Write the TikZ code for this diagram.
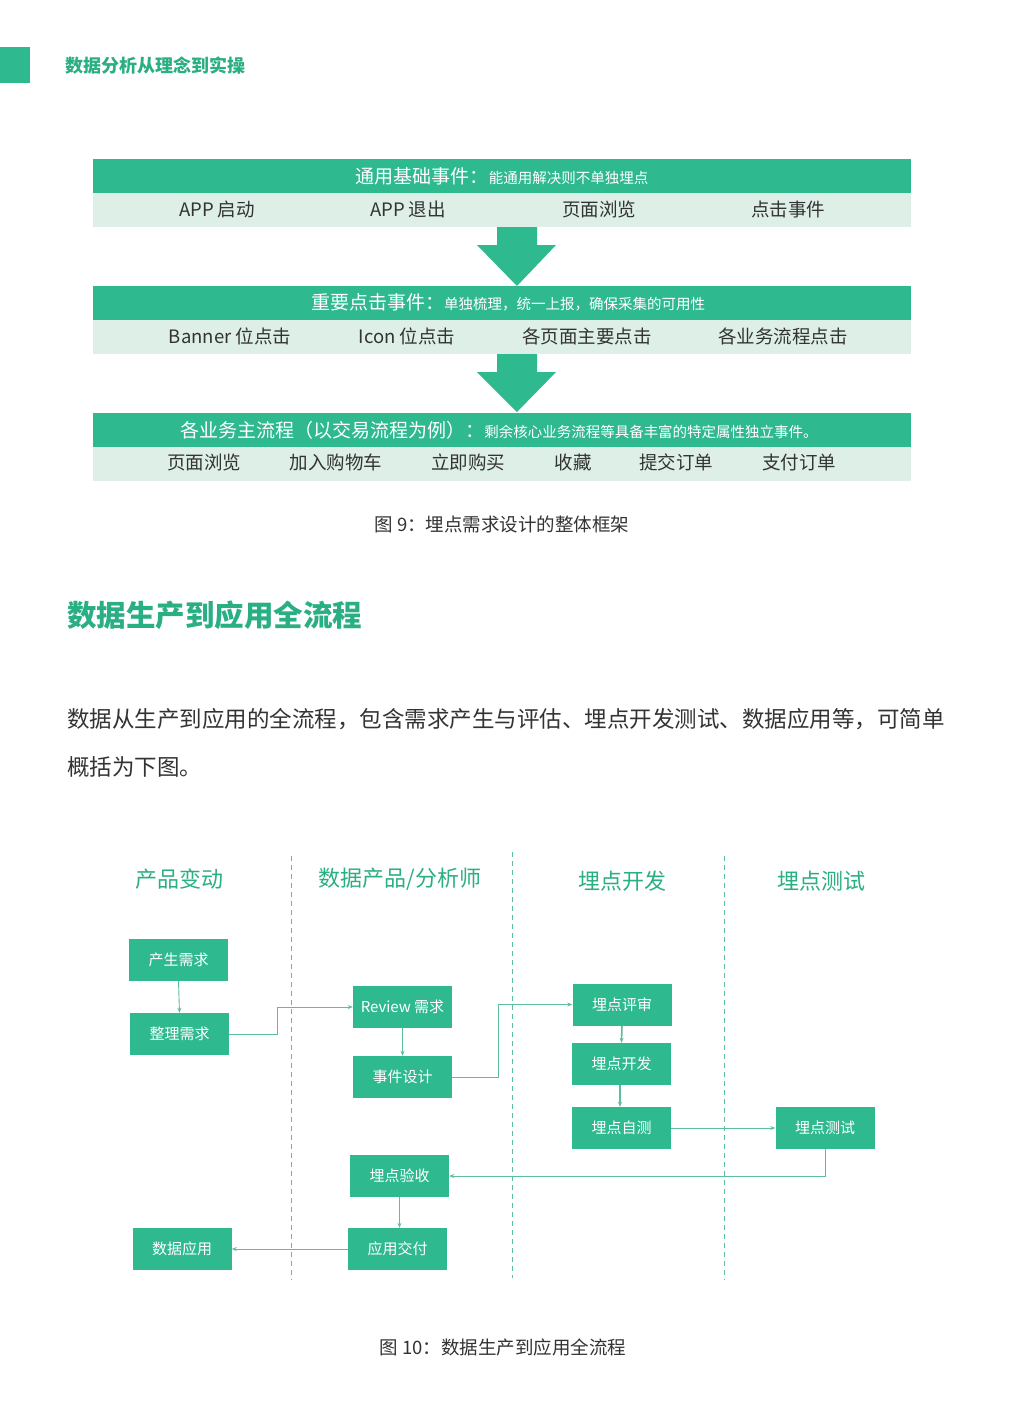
\documentclass[tikz,border=0pt]{standalone}
\usepackage{fontspec}
\setmainfont{Noto Sans CJK SC}
\usetikzlibrary{arrows.meta}
\definecolor{gmain}{HTML}{2EB98E}
\definecolor{glight}{HTML}{DDEFE6}
\definecolor{gtext}{HTML}{2AAE84}
\definecolor{gline}{HTML}{5DBE9A}
\definecolor{dtext}{HTML}{333333}
\newcommand{\fs}[1]{\fontsize{#1}{#1}\selectfont}
\begin{document}
\begin{tikzpicture}[x=1pt,y=-1pt,
  hdr/.style={fill=gmain,draw=none},
  rowbg/.style={fill=glight,draw=none},
  hdrtxt/.style={text=white,inner sep=0pt,anchor=center},
  item/.style={text=dtext,font=\fs{18.5},inner sep=0pt,anchor=center},
  flowbox/.style={fill=gmain,text=white,minimum width=99pt,minimum height=42pt,inner sep=0pt,font=\fs{15}},
  lane/.style={text=gtext,font=\fs{22},inner sep=0pt},
  lanediv/.style={draw=gline,dashed,dash pattern=on 5pt off 4pt,line width=0.6pt},
  conn/.style={draw=gline,line width=0.9pt,-{Stealth[length=5pt,width=4pt]}},
  bigarrow/.style={fill=gmain,draw=none},
  caption/.style={text=dtext,font=\fs{18.5},inner sep=0pt}
]
\useasboundingbox (0,0) rectangle (1011,1409);
\fill[white] (0,0) rectangle (1011,1409);

% top page header
\fill[gmain] (0,47) rectangle (30,83);
\node[text=gtext,font=\fs{18}\bfseries,anchor=west,inner sep=0pt] (pagetitle) at (65,66) {数据分析从理念到实操};

% block 1
\fill[hdr] (93,159) rectangle (911,193);
\fill[rowbg] (93,193) rectangle (911,227);
\node[hdrtxt] (h1) at (502,176) {{\fs{19}通用基础事件：}{\fs{14.5}能通用解决则不单独埋点}};
\node[item] (a1) at (217,209) {APP 启动};
\node[item] (a2) at (408,209) {APP 退出};
\node[item] (a3) at (599,209) {页面浏览};
\node[item] (a4) at (788,209) {点击事件};

% arrow 1
\fill[bigarrow] (497,227) -- (537,227) -- (537,245) -- (556,245) -- (517,286) -- (477,245) -- (497,245) -- cycle;

% block 2
\fill[hdr] (93,286) rectangle (911,320);
\fill[rowbg] (93,320) rectangle (911,354);
\node[hdrtxt] (h2) at (508,302) {{\fs{19}重要点击事件：}{\fs{14.5}单独梳理，统一上报，确保采集的可用性}};
\node[item] (b1) at (230,336) {Banner 位点击};
\node[item] (b2) at (407,336) {Icon 位点击};
\node[item] (b3) at (587,336) {各页面主要点击};
\node[item] (b4) at (783,336) {各业务流程点击};

% arrow 2
\fill[bigarrow] (497,354) -- (537,354) -- (537,372) -- (556,372) -- (517,412) -- (477,372) -- (497,372) -- cycle;

% block 3
\fill[hdr] (93,413) rectangle (911,447);
\fill[rowbg] (93,447) rectangle (911,481);
\node[hdrtxt] (h3) at (499,430) {{\fs{19}各业务主流程（以交易流程为例）：}{\fs{14.5}剩余核心业务流程等具备丰富的特定属性独立事件。}};
\node[item] (c1) at (204,462) {页面浏览};
\node[item] (c2) at (336,462) {加入购物车};
\node[item] (c3) at (468,462) {立即购买};
\node[item] (c4) at (573,462) {收藏};
\node[item] (c5) at (676,462) {提交订单};
\node[item] (c6) at (799,462) {支付订单};

\node[caption] (cap9) at (502,524) {图 9：埋点需求设计的整体框架};

% section title
\node[text=gtext,font=\fs{29.5}\bfseries,anchor=west,inner sep=0pt] (sect) at (67,615) {数据生产到应用全流程};

% paragraph
\node[text=dtext,font=\fs{22.5},anchor=west,inner sep=0pt] (p1) at (67,719) {数据从生产到应用的全流程，包含需求产生与评估、埋点开发测试、数据应用等，可简单};
\node[text=dtext,font=\fs{22.5},anchor=west,inner sep=0pt] (p2) at (67,767) {概括为下图。};

% lanes
\draw[lanediv] (291,856) -- (291,1280);
\draw[lanediv] (512,852) -- (512,1278);
\draw[lanediv] (724,856) -- (724,1280);
\node[lane] (l1) at (179,879) {产品变动};
\node[lane] (l2) at (400,879) {数据产品/分析师};
\node[lane] (l3) at (622,881) {埋点开发};
\node[lane] (l4) at (821,881) {埋点测试};

% flow boxes
\node[flowbox] (n1) at (178.5,960) {产生需求};
\node[flowbox] (n2) at (179.5,1034) {整理需求};
\node[flowbox] (n3) at (402.5,1007) {Review 需求};
\node[flowbox] (n4) at (402.5,1077) {事件设计};
\node[flowbox] (n5) at (622,1004.5) {埋点评审};
\node[flowbox] (n6) at (621.5,1064) {埋点开发};
\node[flowbox] (n7) at (621.5,1128) {埋点自测};
\node[flowbox] (n8) at (825,1128) {埋点测试};
\node[flowbox] (n9) at (399.5,1176) {埋点验收};
\node[flowbox] (n10) at (397.5,1249) {应用交付};
\node[flowbox] (n11) at (182,1249) {数据应用};

% connectors
\draw[conn] (n1.south) -- (n2.north);
\draw[conn] (n2.east) -- (277,1034) -- (277,1007) -- (n3.west);
\draw[conn] (n3.south) -- (n4.north);
\draw[conn] (n4.east) -- (498,1077) -- (498,1004.5) -- (n5.west);
\draw[conn,line width=1.6pt] (n5.south) -- (n6.north);
\draw[conn,line width=1.6pt] (n6.south -| 620,0) -- (n7.north -| 620,0);
\draw[conn] (n7.east) -- (n8.west);
\draw[conn] (n8.south) -- (825,1176) -- (n9.east);
\draw[conn] (n9.south) -- (n10.north -| n9.south);
\draw[conn] (n10.west) -- (n11.east);

\node[caption] (cap10) at (503,1347) {图 10：数据生产到应用全流程};
\end{tikzpicture}
\end{document}
